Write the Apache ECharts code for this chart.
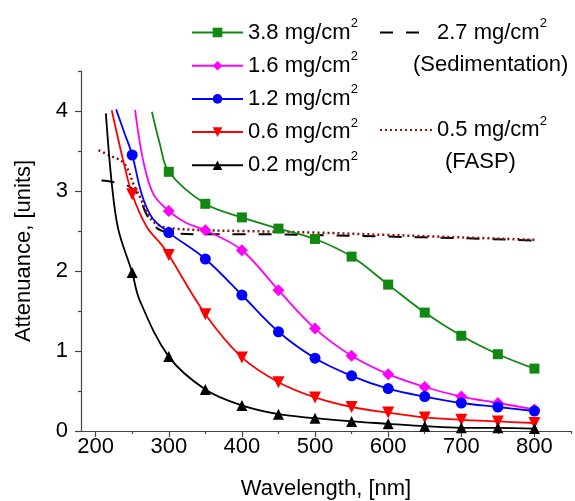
<!DOCTYPE html>
<html><head><meta charset="utf-8">
<script src="https://cdn.jsdelivr.net/npm/echarts@6/dist/echarts.min.js"></script>
<style>html,body{margin:0;padding:0;background:#fff}#c{width:575px;height:501px}</style>
</head><body><div id="c"></div>
<script>
// ---- data ----
const names = ['3.8 mg/cm²','1.6 mg/cm²','1.2 mg/cm²','0.6 mg/cm²','0.2 mg/cm²','2.7 mg/cm²','0.5 mg/cm²'];

const x38 = [277, 288, 300, 350, 400, 450, 500, 550, 600, 650, 700, 750, 800];
const y38 = [3.99, 3.58, 3.24, 2.84, 2.67, 2.53, 2.40, 2.18, 1.83, 1.48, 1.19, 0.96, 0.78];

const x16 = [254, 265, 279, 300, 324, 350, 400, 450, 500, 550, 600, 650, 700, 750, 800];
const y16 = [4.01, 3.38, 2.96, 2.75, 2.60, 2.51, 2.26, 1.76, 1.28, 0.94, 0.71, 0.55, 0.43, 0.35, 0.27];

const x12 = [228, 240, 250, 263, 277, 300, 350, 400, 450, 500, 550, 600, 650, 700, 750, 800];
const y12 = [4.02, 3.71, 3.45, 2.96, 2.67, 2.48, 2.15, 1.70, 1.24, 0.91, 0.69, 0.53, 0.43, 0.35, 0.30, 0.25];

const x06 = [222, 238, 250, 270, 290, 300, 350, 400, 450, 500, 550, 600, 650, 700, 750, 800];
const y06 = [4.01, 3.37, 2.96, 2.55, 2.33, 2.20, 1.46, 0.92, 0.61, 0.42, 0.30, 0.23, 0.17, 0.14, 0.12, 0.10];

const x02 = [214, 222, 231, 250, 260, 300, 350, 400, 450, 500, 550, 600, 650, 700, 750, 800];
const y02 = [3.97, 3.10, 2.52, 1.98, 1.64, 0.93, 0.52, 0.32, 0.21, 0.16, 0.12, 0.09, 0.06, 0.04, 0.04, 0.03];

const xSed = [208, 225, 245, 258, 270, 283, 300, 350, 400, 500, 600, 700, 800];
const ySed = [3.13, 3.11, 3.06, 2.95, 2.70, 2.54, 2.48, 2.46, 2.46, 2.45, 2.43, 2.41, 2.38];

const xFasp = [204, 220, 236, 245, 252, 261, 270, 281, 299, 350, 400, 500, 600, 700, 800];
const yFasp = [3.51, 3.44, 3.37, 3.25, 3.08, 2.92, 2.73, 2.60, 2.54, 2.51, 2.50, 2.48, 2.45, 2.42, 2.39];

const xTicks = [200, 300, 400, 500, 600, 700, 800];
const xMinorTicks = [250, 350, 450, 550, 650, 750, 850];
const yTicks = [0, 1, 2, 3, 4];
const yMinorTicks = [0.5, 1.5, 2.5, 3.5, 4.5];
const subNotes = ['(Sedimentation)', '(FASP)'];

// ---- chart ----
const FONT = 'Liberation Sans, Arial, sans-serif';
function pts(xs, ys, marked) {
  return xs.map((x, i) => marked && x % 50 === 0 ? [x, ys[i]] : { value: [x, ys[i]], symbol: 'none' });
}
function lineSeries(name, xs, ys, color, symbol, size, rot) {
  return {
    name, type: 'line', data: pts(xs, ys, true), smooth: 0.35,
    symbol, symbolSize: size, symbolRotate: rot || 0, showAllSymbol: true,
    lineStyle: { color, width: 1.8 }, itemStyle: { color }, z: 3
  };
}
const rich = { sup: { fontSize: 13, fontFamily: FONT, padding: [0, 0, 18, 0], color: '#000' } };
const fmt = n => n.replace('²', '{sup|2}');
const FS = 22;

const chart = echarts.init(document.getElementById('c'), null, { renderer: 'canvas' });
chart.setOption({
  animation: false,
  backgroundColor: '#fff',
  grid: { left: 81, right: 4, top: 71, bottom: 70, containLabel: false, outerBoundsMode: 'none' },
  xAxis: [{
    type: 'value', min: 180, max: 850,
    name: 'Wavelength, [nm]', nameLocation: 'middle', nameGap: 47,
    nameTextStyle: { fontSize: FS, fontFamily: FONT, color: '#000' },
    axisLine: { show: true, lineStyle: { color: '#444', width: 1.2 } },
    axisTick: { show: true, length: 6, customValues: xTicks, lineStyle: { color: '#444', width: 1.2 } },
    axisLabel: { customValues: xTicks, margin: 5, fontSize: FS, fontFamily: FONT, color: '#000' },
    splitLine: { show: false }
  }, {
    type: 'value', min: 180, max: 850, position: 'bottom', offset: 0,
    axisLine: { show: false },
    axisTick: { show: true, length: 3, customValues: xMinorTicks, lineStyle: { color: '#444', width: 1.2 } },
    axisLabel: { show: false }, splitLine: { show: false }
  }],
  yAxis: [{
    type: 'value', min: 0, max: 4.5,
    name: 'Attenuance, [units]', nameLocation: 'middle', nameGap: 46, nameRotate: 90,
    nameTextStyle: { fontSize: FS, fontFamily: FONT, color: '#000' },
    axisLine: { show: true, lineStyle: { color: '#444', width: 1.2 } },
    axisTick: { show: true, length: 6, customValues: yTicks, lineStyle: { color: '#444', width: 1.2 } },
    axisLabel: { customValues: yTicks, margin: 13, fontSize: FS, fontFamily: FONT, color: '#000' },
    splitLine: { show: false }
  }, {
    type: 'value', min: 0, max: 4.5, position: 'left', offset: 0,
    axisLine: { show: false },
    axisTick: { show: true, length: 3, customValues: yMinorTicks, lineStyle: { color: '#444', width: 1.2 } },
    axisLabel: { show: false }, splitLine: { show: false }
  }],
  legend: [{
    data: names.slice(0, 5), orient: 'vertical', left: 191, top: 17, itemGap: 6.7, padding: 0,
    itemWidth: 51, itemHeight: 12, formatter: fmt,
    textStyle: { fontSize: FS, fontFamily: FONT, color: '#000', rich }
  }, {
    data: names.slice(5).map(n => ({ name: n, itemStyle: { color: 'rgba(0,0,0,0)', borderWidth: 0, opacity: 0 } })),
    orient: 'vertical', left: 379, top: 17, itemGap: 71, padding: 0,
    itemWidth: 52, itemHeight: 12, formatter: fmt,
    textStyle: { fontSize: FS, fontFamily: FONT, color: '#000', rich }
  }],
  graphic: [
    { type: 'text', left: 413, top: 54, style: { text: subNotes[0], font: FS + 'px ' + FONT, fill: '#000' } },
    { type: 'text', left: 445, top: 151, style: { text: subNotes[1], font: FS + 'px ' + FONT, fill: '#000' } }
  ],
  series: [
    lineSeries(names[0], x38, y38, '#118811', 'rect', 10),
    lineSeries(names[1], x16, y16, '#ff00ff', 'diamond', 12),
    lineSeries(names[2], x12, y12, '#0000ff', 'circle', 11),
    lineSeries(names[3], x06, y06, '#ff0000', 'triangle', 12, 180),
    lineSeries(names[4], x02, y02, '#000000', 'triangle', 11),
    {
      name: names[5], type: 'line', data: pts(xSed, ySed, false), smooth: 0.35,
      symbol: 'none', lineStyle: { color: '#000', width: 2, type: [13, 13] }, itemStyle: { color: '#000' }, z: 2
    },
    {
      name: names[6], type: 'line', data: pts(xFasp, yFasp, false), smooth: 0.35,
      symbol: 'none', lineStyle: { color: '#8b1010', width: 2.5, type: [2, 3] }, itemStyle: { color: '#8b1010' }, z: 2
    }
  ]
});
</script></body></html>
